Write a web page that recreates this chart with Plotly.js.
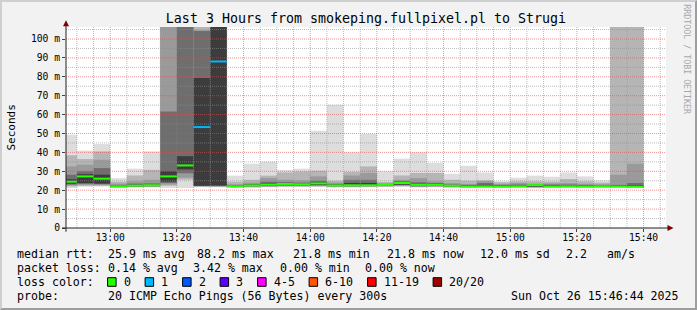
<!DOCTYPE html>
<html><head><meta charset="utf-8">
<script src="https://cdn.plot.ly/plotly-3.0.1.min.js"></script>
<style>
html,body{margin:0;padding:0;background:#f2f2f2;}
#wrap{position:relative;width:697px;height:310px;overflow:hidden;}
#chart{position:absolute;left:0;top:0;width:697px;height:310px;}
#frame{position:absolute;left:0;top:0;width:697px;height:310px;box-sizing:border-box;border-top:2px solid #cfcfcf;border-left:2px solid #cfcfcf;border-right:2px solid #9e9e9e;border-bottom:2px solid #9e9e9e;pointer-events:none;}
</style></head>
<body><div id="wrap"><div id="chart"></div><div id="frame"></div></div>
<script>
const DAY = '2025-10-26';
const rangeStart = '12:46:44';
const rangeEnd = '15:46:44';

// step end times (5 min RRD steps)
const stepEnd = ['12:50','12:55','13:00','13:05','13:10','13:15','13:20','13:25','13:30','13:35',
 '13:40','13:45','13:50','13:55','14:00','14:05','14:10','14:15','14:20','14:25',
 '14:30','14:35','14:40','14:45','14:50','14:55','15:00','15:05','15:10','15:15',
 '15:20','15:25','15:30','15:35','15:40'];
// smoke bands (ms): outermost (min..max) to innermost
const pingMin = [21.2,21.8,21.9,21.3,21.5,21.5,21.2,21.2,21.5,21.5,21.3,21.3,21.5,21.6,21.6,21.7,21.4,21.4,21.5,21.6,21.8,21.4,21.5,21.3,21.2,21.2,21.3,21.2,21.0,21.3,21.3,21.3,21.3,21.3,21.3];
const pingMax = [49.4,40.9,44.4,26.4,31.4,40.5,120,120,120,120,27.7,34.0,35.1,30.7,31.4,51.5,65.2,40.0,49.7,30.0,36.7,40.0,34.4,28.7,32.9,29.4,24.7,26.6,27.7,27.1,29.4,27.3,25.2,120,120];
const band2Lo = [22.0,22.3,22.3,21.5,21.7,21.8,22.3,25.5,21.8,21.8,21.6,21.6,21.8,21.9,21.9,22.0,21.7,21.7,21.8,21.9,22.1,21.7,21.8,21.6,21.5,21.5,21.5,21.5,21.3,21.5,21.5,21.5,21.5,21.5,21.5];
const band2Hi = [38.5,36.5,40.5,24.5,27.8,30.8,120,120,120,120,24.5,25.5,27.7,29.4,29.9,30.3,25.0,29.6,32.6,24.3,27.8,29.1,29.1,25.5,25.0,25.2,24.2,24.7,24.7,24.5,25.9,24.7,24.0,120,120];
const band3Lo = [22.5,22.8,22.8,21.6,21.9,22.0,23.0,26.6,22.1,22.0,21.7,21.8,22.0,22.2,22.2,22.3,21.9,21.9,22.0,22.1,22.4,21.9,22.0,21.8,21.7,21.7,21.6,21.7,21.6,21.7,21.7,21.7,21.7,21.7,21.7];
const band3Hi = [32.6,33.5,36.1,23.5,24.7,25.5,120,120,104.4,120,23.2,24.0,26.4,25.5,25.2,27.3,24.0,27.8,29.1,23.6,25.5,26.4,24.7,23.8,23.3,24.8,23.3,23.8,23.4,23.6,23.8,23.4,23.2,28.2,34.0];
const band4Lo = [23.0,23.3,23.2,21.7,22.0,22.1,23.8,29.0,22.2,22.2,21.8,22.0,22.2,22.5,22.5,22.6,22.1,22.1,22.2,22.3,22.7,22.1,22.2,22.0,21.8,21.8,21.7,21.8,21.8,21.8,21.8,21.8,21.8,21.8,21.8];
const band4Hi = [28.2,30.0,31.7,22.8,23.5,23.6,61.7,120,104.4,120,22.6,23.3,24.5,24.3,24.0,25.0,23.3,25.5,25.5,23.3,24.8,24.2,23.8,23.1,22.8,23.8,22.8,23.0,23.1,23.0,23.0,22.8,22.6,22.8,23.8];
const band5Lo = [23.5,23.8,23.5,21.8,22.1,22.2,24.5,31.0,22.4,22.5,21.9,22.2,22.4,22.8,22.7,22.9,22.3,22.3,22.4,22.5,23.0,22.3,22.4,22.1,21.9,21.9,21.8,21.9,22.0,21.9,21.9,21.9,21.9,21.9,21.9];
const band5Hi = [25.8,28.5,28.2,22.3,22.8,22.9,30.0,38.0,79.4,120,22.3,22.9,23.5,23.8,23.5,24.3,22.9,23.8,23.8,23.1,24.3,23.3,23.3,22.7,22.4,22.8,22.4,22.5,22.9,22.5,22.5,22.4,22.3,22.4,22.5];
const medianRtt = [24.5,27.3,26.1,22.0,22.4,22.6,27.3,33.1,53.4,88.1,22.0,22.5,22.9,23.3,23.1,23.6,22.5,22.6,22.6,22.8,23.8,22.8,22.8,22.4,21.9,22.0,21.9,22.0,22.7,21.9,22.0,21.9,22.0,21.9,21.8];
const lossCount = [0,0,0,0,0,0,0,0,1,1,0,0,0,0,0,0,0,0,0,0,0,0,0,0,0,0,0,0,0,0,0,0,0,0,0];

const lossLabels = ['0','1','2','3','4-5','6-10','11-19','20/20'];
const lossUpper = [0,1,2,3,5,10,19,20];
const lossColors = ['#26ff00','#00b8ff','#0059ff','#5e00ff','#ff00ff','#ff5500','#ff0000','#a00000'];

const yTickVals = [0,10,20,30,40,50,60,70,80,90,100];
const yTickText = ['0','10 m','20 m','30 m','40 m','50 m','60 m','70 m','80 m','90 m','100 m'];

const rttStatVals = ['25.9','88.2','21.8','21.8','12.0'];
const rttStatNames = ['avg','max','min','now','sd'];
const amsValue = '2.2';
const lossStatVals = ['0.14','3.42','0.00','0.00'];
const lossStatNames = ['avg','max','min','now'];
const probeText = '20 ICMP Echo Pings (56 Bytes) every 300s';
const stampText = 'Sun Oct 26 15:46:44 2025';
const titleText = 'Last 3 Hours from smokeping.fullpixel.pl to Strugi';

const MONO = 'DejaVu Sans Mono, monospace';
const STEP_MS = 300000;

function toMin(s){const p=s.split(':').map(Number);return p[0]*60+p[1]+(p[2]||0)/60;}
function pad(n){return (n<10?'0':'')+n;}
function fmt(m){const tot=Math.round(m*60);const h=Math.floor(tot/3600),mi=Math.floor((tot%3600)/60),se=tot%60;return DAY+' '+pad(h)+':'+pad(mi)+':'+pad(se);}

const xEnd = stepEnd.map(s=>fmt(toMin(s)));
const traces = [];
const bands = [
  [pingMin,pingMax,'#dddddd'],
  [band2Lo,band2Hi,'#b5b5b5'],
  [band3Lo,band3Hi,'#9a9a9a'],
  [band4Lo,band4Hi,'#6e6e6e'],
  [band5Lo,band5Hi,'#3c3c3c']
];
bands.forEach(b=>{
  traces.push({type:'bar',x:xEnd,base:b[0],y:b[1].map((v,i)=>v-b[0][i]),width:STEP_MS,offset:-STEP_MS,
    marker:{color:b[2],line:{width:0}},hoverinfo:'skip',showlegend:false});
});
// median line coloured by loss
function lossIdx(n){for(let k=0;k<lossUpper.length;k++){if(n<=lossUpper[k])return k;}return lossUpper.length-1;}
lossColors.forEach((c,k)=>{
  const xs=[],ys=[];
  medianRtt.forEach((v,i)=>{
    if(lossIdx(lossCount[i])===k){
      const e=toMin(stepEnd[i]);
      xs.push(fmt(e-5),fmt(e),null); ys.push(v,v,null);
    }
  });
  if(xs.length) traces.push({type:'scatter',mode:'lines',x:xs,y:ys,line:{color:c,width:2},hoverinfo:'skip',showlegend:false,connectgaps:false});
});

// geometry helpers (pixel -> paper)
const L=66,W=600,T=27.3,B=228.3,H=201;
function px(x){return (x-L)/W;}
function py(y){return (B-y)/H;}

const shapes=[];
// grid
const t0=toMin(rangeStart), t1=toMin(rangeEnd);
for(let m=Math.ceil(t0/5)*5;m<t1;m+=5){
  const major=(m%20===0);
  shapes.push({type:'line',xref:'x',yref:'paper',x0:fmt(m),x1:fmt(m),y0:0,y1:1,layer:'above',
    line:{color:major?'rgba(222,79,79,0.6)':'rgba(143,143,143,0.6)',width:1,dash:'1px,1px'}});
}
for(let v=5;v<=105;v+=5){
  const major=(v%10===0);
  shapes.push({type:'line',xref:'paper',yref:'y',x0:0,x1:1,y0:v,y1:v,layer:'above',
    line:{color:major?'rgba(222,79,79,0.6)':'rgba(143,143,143,0.6)',width:1,dash:'1px,1px'}});
}
// axes with arrows
shapes.push({type:'line',xref:'paper',yref:'paper',x0:px(66),x1:px(66),y0:py(232),y1:py(24),layer:'above',line:{color:'#212121',width:1}});
shapes.push({type:'line',xref:'paper',yref:'paper',x0:px(62),x1:px(668),y0:0,y1:0,layer:'above',line:{color:'#212121',width:1}});
shapes.push({type:'path',xref:'paper',yref:'paper',layer:'above',
  path:`M${px(66)},${py(20.5)} L${px(63)},${py(26.5)} L${px(69)},${py(26.5)} Z`,fillcolor:'#800000',line:{width:0}});
shapes.push({type:'path',xref:'paper',yref:'paper',layer:'above',
  path:`M${px(673.5)},${py(228.3)} L${px(667.5)},${py(225.3)} L${px(667.5)},${py(231.3)} Z`,fillcolor:'#800000',line:{width:0}});

const ann=[];
function txt(s,x,y,o){o=o||{};ann.push(Object.assign({xref:'paper',yref:'paper',x:px(x),y:py(y),text:s.replace(/ /g,'\u00a0'),
  showarrow:false,xanchor:'left',yanchor:'middle',borderpad:0,font:{family:MONO,size:11.6,color:'#000'}},o));}

// legend line 1
const l1y=254.6;
txt('median rtt:',16,l1y);
const rttX=[107,196,292.4,386.2,478.7];
rttStatVals.forEach((v,i)=>txt(v+' ms '+rttStatNames[i],rttX[i],l1y));
txt(amsValue,565.3,l1y); txt('am/s',606.2,l1y);
// line 2
const l2y=268.3;
txt('packet loss:',16,l2y);
const lossX=[107,191.6,278.7,364];
lossStatVals.forEach((v,i)=>txt(v+' % '+lossStatNames[i],lossX[i],l2y));
// line 3 loss colours
const l3y=282.3;
txt('loss color:',16,l3y);
let cx=107.6;
lossLabels.forEach((lab,i)=>{
  shapes.push({type:'rect',xref:'paper',yref:'paper',x0:px(cx),x1:px(cx+8.5),y0:py(l3y+4.3),y1:py(l3y-4.3),
    fillcolor:lossColors[i],line:{color:'#000',width:1}});
  txt(lab,cx+15,l3y);
  cx=cx+15+lab.length*7+15.5;
});
// line 4
const l4y=296;
txt('probe:',16,l4y);
txt(probeText,107,l4y);
txt(stampText,680,l4y,{xanchor:'right'});
// y title
ann.push({xref:'paper',yref:'paper',x:px(11),y:0.5,text:'Seconds',textangle:-90,showarrow:false,xanchor:'center',yanchor:'middle',
  font:{family:MONO,size:11,color:'#000'}});
// watermark
ann.push({xref:'paper',yref:'paper',x:px(687.5),y:py(59),text:'RRDTOOL / TOBI OETIKER',textangle:90,showarrow:false,xanchor:'center',yanchor:'middle',
  font:{family:MONO,size:8.3,color:'#a8a8a8'}});

const layout={
  width:697,height:310,
  margin:{l:L,r:697-L-W,t:T,b:310-B,pad:0},
  paper_bgcolor:'#f2f2f2',plot_bgcolor:'#ffffff',
  barmode:'overlay',showlegend:false,
  title:{text:titleText,x:0.5,xref:'paper',xanchor:'center',y:1-18/310,yref:'container',yanchor:'middle',
    font:{family:MONO,size:13.3,color:'#000'}},
  xaxis:{type:'date',range:[fmt(t0),fmt(t1)],showgrid:false,zeroline:false,showline:false,
    tickformat:'%H:%M',dtick:1200000,tick0:fmt(780),ticks:'outside',ticklen:3,tickcolor:'#444',
    ticklabelstandoff:-3,
    tickfont:{family:MONO,size:9.7,color:'#000'},fixedrange:true},
  yaxis:{range:[0,(B-T)/1.89],showgrid:false,zeroline:false,showline:false,tickmode:'array',
    tickvals:yTickVals,ticktext:yTickText,ticks:'outside',ticklen:3,tickcolor:'#444',
    tickfont:{family:MONO,size:9.7,color:'#000'},fixedrange:true},
  shapes:shapes,annotations:ann
};
Plotly.newPlot('chart',traces,layout,{displayModeBar:false,staticPlot:true});
</script>
</body></html>
